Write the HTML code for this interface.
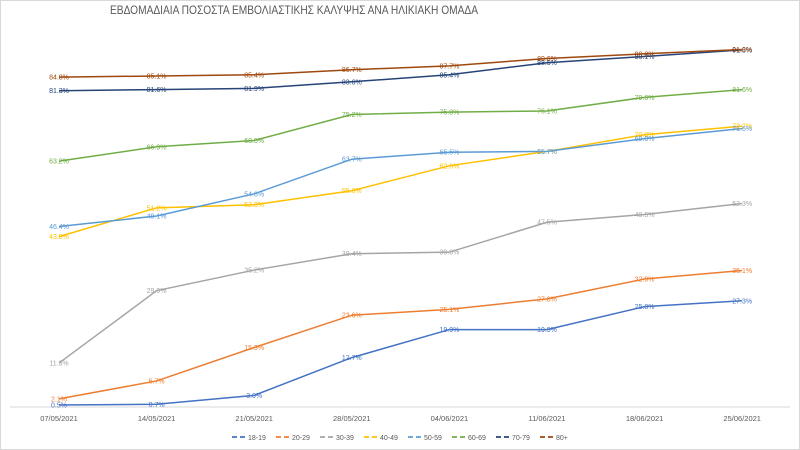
<!DOCTYPE html>
<html><head><meta charset="utf-8"><style>body{margin:0;background:#fff}svg{display:block}text{font-family:"Liberation Sans",sans-serif}</style></head>
<body>
<svg id="s" width="800" height="450" xmlns="http://www.w3.org/2000/svg">
<rect x="0.5" y="0.5" width="799" height="449" fill="#fff" stroke="#d9d9d9"/>
<text x="294" y="14" text-anchor="middle" font-size="12" fill="#595959" textLength="368" lengthAdjust="spacingAndGlyphs">ΕΒΔΟΜΑΔΙΑΙΑ ΠΟΣΟΣΤΑ ΕΜΒΟΛΙΑΣΤΙΚΗΣ ΚΑΛΥΨΗΣ ΑΝΑ ΗΛΙΚΙΑΚΗ ΟΜΑΔΑ</text>
<line x1="10" y1="407" x2="790" y2="407" stroke="#d9d9d9"/>
</svg>
<script>
var s=document.getElementById('s'),ns='http://www.w3.org/2000/svg';
function X(i){return 59+97.6*i}function Y(v){return 407-3.89*v}
var D=[["18-19","#4472C4",[0.5,0.7,3.0,12.7,19.9,19.9,25.8,27.3]],
["20-29","#ED7D31",[2.1,6.7,15.3,23.6,25.1,27.8,32.9,35.1]],
["30-39","#A5A5A5",[11.3,29.9,35.2,39.4,39.8,47.5,49.5,52.3]],
["40-49","#FFC000",[43.8,51.2,52.0,55.6,62.0,65.7,70.0,72.2]],
["50-59","#5B9BD5",[46.4,49.1,54.8,63.7,65.5,65.7,69.0,71.6]],
["60-69","#70AD47",[63.2,66.9,68.5,75.2,75.8,76.1,79.6,81.6]],
["70-79","#264478",[81.3,81.6,81.9,83.6,85.4,88.5,90.1,91.8]],
["80+","#9E480E",[84.8,85.1,85.4,86.7,87.7,89.6,90.8,91.9]]];
function el(t,a,txt){var e=document.createElementNS(ns,t);for(var k in a)e.setAttribute(k,a[k]);if(txt)e.textContent=txt;s.appendChild(e);return e}
var dates=["07/05/2021","14/05/2021","21/05/2021","28/05/2021","04/06/2021","11/06/2021","18/06/2021","25/06/2021"];
dates.forEach(function(d,i){el('text',{x:X(i),y:421,'text-anchor':'middle','font-size':7.5,fill:'#595959'},d)});
D.forEach(function(r){var p=r[2].map(function(v,i){return X(i)+','+Y(v)}).join(' ');
el('polyline',{points:p,fill:'none',stroke:r[1],'stroke-width':1.5});});
D.forEach(function(r){r[2].forEach(function(v,i){el('text',{x:X(i),y:Y(v)+2.5,'text-anchor':'middle','font-size':7,fill:r[1]},v.toFixed(1)+'%')})});
var lx=232;D.forEach(function(r){el('line',{x1:lx,y1:437,x2:lx+14,y2:437,stroke:r[1],'stroke-width':1.8,'stroke-dasharray':'5 3'});
el('text',{x:lx+16,y:440,'font-size':7,fill:'#595959'},r[0]);lx+=r[0].length>3?44:40;});
</script>
</body></html>
